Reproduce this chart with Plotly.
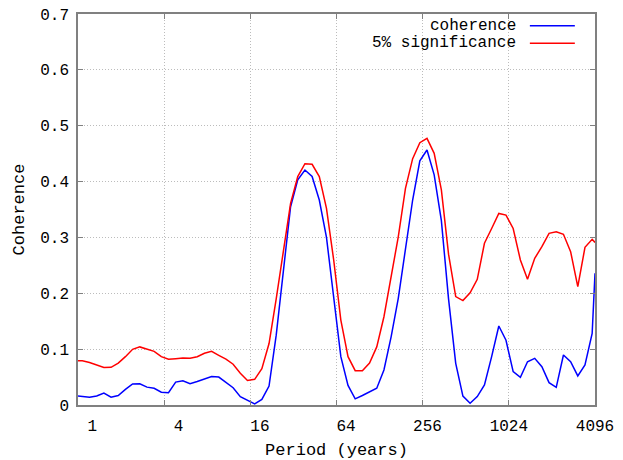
import plotly.graph_objects as go

# Period (years), roughly 1/6-octave spacing
periods = [1.0, 1.072, 1.204, 1.351, 1.517, 1.702, 1.911, 2.145, 2.407,
           2.702, 3.033, 3.404, 3.821, 4.289, 4.814,
           5.404, 6.066, 6.809, 7.642, 8.578, 9.629,
           10.81, 12.13, 13.62, 15.28, 17.16, 19.26,
           21.62, 24.26, 27.23, 30.57, 34.31, 38.52,
           43.23, 48.53, 54.47, 61.14, 68.63, 77.03,
           86.46, 97.06, 108.9, 122.3, 137.3, 154.1,
           172.9, 194.1, 217.9, 244.6, 274.5, 308.1,
           345.9, 388.2, 435.7, 489.1, 549.0, 616.3,
           691.7, 776.5, 871.6, 978.2, 1098, 1233,
           1383, 1553, 1743, 1956, 2196, 2465,
           2767, 3106, 3486, 3913, 4096]

coherence = [0.016, 0.015, 0.014, 0.016, 0.0215, 0.014, 0.017, 0.028, 0.0376,
             0.038, 0.032, 0.030, 0.023, 0.022, 0.041,
             0.0435, 0.038, 0.042, 0.0465, 0.051, 0.050,
             0.041, 0.031, 0.015, 0.008, 0.002, 0.010,
             0.034, 0.125, 0.245, 0.355, 0.403, 0.4207,
             0.409, 0.367, 0.300, 0.194, 0.0865, 0.035,
             0.011, 0.017, 0.024, 0.030, 0.0627, 0.122,
             0.191, 0.2775, 0.367, 0.437, 0.4565, 0.412,
             0.330, 0.190, 0.0746, 0.016, 0.003, 0.015,
             0.036, 0.0865, 0.1414, 0.116, 0.0597, 0.0496,
             0.0775, 0.0836, 0.0686, 0.040, 0.0317, 0.0895,
             0.0775, 0.052, 0.0716, 0.128, 0.236]

significance = [0.079, 0.079, 0.076, 0.071, 0.067, 0.0675, 0.075, 0.0865, 0.0997,
                0.104, 0.0997, 0.096, 0.0865, 0.0818, 0.083,
                0.084, 0.0836, 0.0865, 0.0925, 0.096, 0.089,
                0.082, 0.073, 0.057, 0.044, 0.046, 0.065,
                0.110, 0.190, 0.280, 0.361, 0.409, 0.432,
                0.431, 0.409, 0.352, 0.260, 0.152, 0.0865,
                0.0614, 0.0614, 0.075, 0.104, 0.158, 0.230,
                0.301, 0.388, 0.441, 0.4696, 0.4774, 0.4506,
                0.385, 0.270, 0.194, 0.187, 0.201, 0.225,
                0.2895, 0.316, 0.343, 0.340, 0.316, 0.2596,
                0.225, 0.2626, 0.2834, 0.3074, 0.310, 0.3056,
                0.2745, 0.2118, 0.2823, 0.2966, 0.291]

x_ticks = [1, 4, 16, 64, 256, 1024, 4096]
y_ticks = [0, 0.1, 0.2, 0.3, 0.4, 0.5, 0.6, 0.7]
y_tick_labels = ["0", "0.1", "0.2", "0.3", "0.4", "0.5", "0.6", "0.7"]
series_names = ["coherence", "5% significance"]
series_colors = ["#0000ff", "#ff0000"]

FONT = "Liberation Mono, Courier New, monospace"
NB = "\u00a0"
x_tick_labels = [NB * (4 - len(str(v))) + str(v) for v in x_ticks]

fig = go.Figure()
for name, vals, col in zip(series_names, [coherence, significance], series_colors):
    fig.add_trace(go.Scatter(x=periods, y=vals, mode="lines", name=name,
                             line=dict(color=col, width=1.5), showlegend=False))

# custom legend: right-aligned text with line sample on the right
leg_y = [0.970, 0.925]
for name, col, yy in zip(series_names, series_colors, leg_y):
    fig.add_annotation(xref="paper", yref="paper", x=0.851, y=yy, text=name,
                       showarrow=False, xanchor="right", yanchor="middle",
                       font=dict(family=FONT, size=16, color="#000000"))
    fig.add_shape(type="line", xref="paper", yref="paper", x0=0.874, x1=0.961,
                  y0=yy, y1=yy, line=dict(color=col, width=1.5))

axis_common = dict(showline=True, linecolor="#808080", linewidth=1.5, mirror="allticks",
                   ticks="inside", ticklen=5, tickcolor="#808080", tickwidth=1,
                   showgrid=True, gridcolor="#bcbcbc", griddash="1px,2px", gridwidth=1,
                   zeroline=False, automargin=False, ticklabeloverflow="allow",
                   tickfont=dict(family=FONT, size=16, color="#000000"))

fig.update_xaxes(type="log", range=[0, 3.61236], tickvals=x_ticks, ticktext=x_tick_labels,
                 ticklabelstandoff=5,
                 title=dict(text="Period (years)", standoff=8,
                            font=dict(family=FONT, size=17, color="#000000")),
                 **axis_common)
fig.update_yaxes(range=[0, 0.7], tickvals=y_ticks, ticktext=y_tick_labels,
                 ticklabelstandoff=4,
                 title=dict(text="Coherence", standoff=11,
                            font=dict(family=FONT, size=17, color="#000000")),
                 **axis_common)

fig.update_layout(width=623, height=460, margin=dict(l=78, r=28, t=14, b=55, autoexpand=False),
                  plot_bgcolor="#ffffff", paper_bgcolor="#ffffff",
                  font=dict(family=FONT, size=16, color="#000000"))

# remove the default 8px page margin so the figure sits at the window origin
fig.write_html("out.html", config={"displayModeBar": False},
               post_script="document.body.style.margin='0px';")
